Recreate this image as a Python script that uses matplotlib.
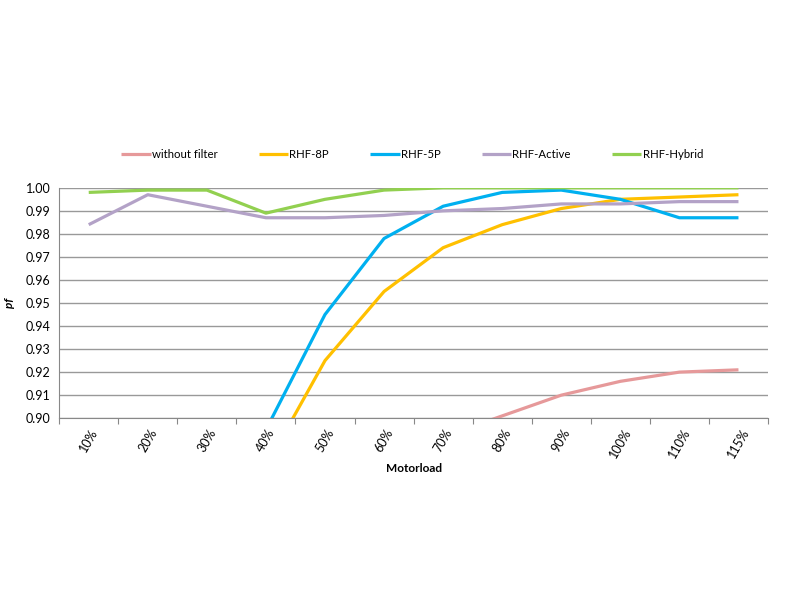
import matplotlib
matplotlib.use("Agg")
import matplotlib.pyplot as plt
import numpy as np

plt.rcParams["font.family"] = ["Lato", "DejaVu Sans"]

categories = ["10%", "20%", "30%", "40%", "50%", "60%", "70%", "80%", "90%", "100%", "110%", "115%"]

without_filter = [0.80, 0.81, 0.82, 0.84, 0.86, 0.875, 0.892, 0.901, 0.910, 0.916, 0.920, 0.921]
rhf_8p = [0.82, 0.84, 0.86, 0.879, 0.925, 0.955, 0.974, 0.984, 0.991, 0.995, 0.996, 0.997]
rhf_5p = [0.86, 0.87, 0.88, 0.895, 0.945, 0.978, 0.992, 0.998, 0.999, 0.995, 0.987, 0.987]
rhf_active = [0.984, 0.997, 0.992, 0.987, 0.987, 0.988, 0.990, 0.991, 0.993, 0.993, 0.994, 0.994]
rhf_hybrid = [0.998, 0.999, 0.999, 0.989, 0.995, 0.999, 1.000, 1.000, 1.000, 1.000, 1.000, 1.000]

series = [
    ("without filter", without_filter, "#E6999A"),
    ("RHF-8P", rhf_8p, "#FFC000"),
    ("RHF-5P", rhf_5p, "#00B0F0"),
    ("RHF-Active", rhf_active, "#B3A2C7"),
    ("RHF-Hybrid", rhf_hybrid, "#92D050"),
]

fig = plt.figure(figsize=(8, 6), dpi=100)
ax = fig.add_axes([0.074, 0.303, 0.886, 0.384])

x = np.arange(len(categories))
for label, values, color in series:
    ax.plot(x, values, color=color, linewidth=2.3, label=label, solid_capstyle="butt")

ax.set_xlim(-0.5, len(categories) - 0.5)
ax.set_ylim(0.90, 1.00)
ax.set_yticks(np.arange(0.90, 1.0001, 0.01))
ax.yaxis.set_major_formatter(matplotlib.ticker.FormatStrFormatter("%.2f"))
ax.tick_params(axis="y", length=0, labelsize=9, pad=6)

ax.set_xticks(np.arange(-0.5, len(categories), 1.0))
ax.set_xticklabels([])
ax.tick_params(axis="x", which="major", length=4, color="#888888", direction="out")
ax.set_xticks(x, minor=True)
ax.set_xticklabels(categories, minor=True, rotation=60, fontsize=9)
ax.tick_params(axis="x", which="minor", length=0, pad=6)

ax.grid(axis="y", color="#999999", linewidth=1.0)
ax.set_axisbelow(True)
for side in ("top", "right"):
    ax.spines[side].set_visible(False)
ax.spines["left"].set_color("#888888")
ax.spines["bottom"].set_color("#888888")

ax.set_ylabel("pf", fontsize=8.5, fontweight="bold", fontstyle="italic", labelpad=8)
ax.set_xlabel("Motorload", fontsize=8.5, fontweight="bold", labelpad=2)

fig.legend(loc="center", bbox_to_anchor=(0.515, 0.742), ncol=5, frameon=False,
           fontsize=8.2, handlelength=2.6, columnspacing=3.6, handletextpad=0.1)

fig.savefig("out.png", dpi=100)
